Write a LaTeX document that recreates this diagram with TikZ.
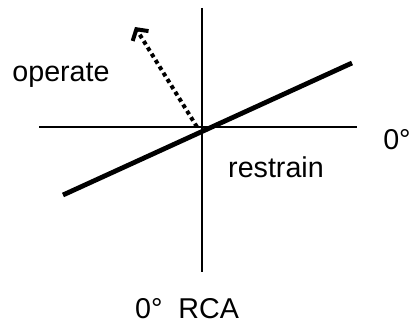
\documentclass[tikz,border=0pt]{standalone}
\usepackage{fontspec}
\setmainfont{Liberation Sans}
\usetikzlibrary{arrows.meta}

\begin{document}
\begin{tikzpicture}[
    x=0.75pt, y=-0.75pt,
    axis/.style={line width=1.5pt},
    charline/.style={line width=3.6pt},
    tripvec/.style={line width=3pt, dash pattern=on 3pt off 2.6pt,
                    -{Straight Barb[length=6pt, width=14pt, line width=3pt]}},
    lbl/.style={anchor=base, inner sep=0pt, font=\fontsize{21.5}{26}\selectfont},
  ]
    \useasboundingbox (0,0) rectangle (411,324);
    % axes
    \coordinate (o)  at (202,127);
    \coordinate (xl) at (39,127);
    \coordinate (xr) at (357,127);
    \coordinate (yt) at (202,8);
    \coordinate (yb) at (202,272);
    \draw[axis] (xl) -- (xr);
    \draw[axis] (yt) -- (yb);
    % characteristic
    \coordinate (cl) at (63,195);
    \coordinate (cr) at (352,63);
    \draw[charline] (cl) -- (cr);
    % operating vector
    \coordinate (vs) at (197,127);
    \coordinate (vt) at (135,27);
    \draw[tripvec] (vs) -- (vt);
    % labels
    \node[lbl] (operate)  at (61,82)   {operate};
    \node[lbl] (restrain) at (276,178) {restrain};
    \node[lbl] (zerox)    at (397,150) {0°};
    \node[lbl] (zeroy)    at (187,319) {0°\ \ RCA};
\end{tikzpicture}
\end{document}
